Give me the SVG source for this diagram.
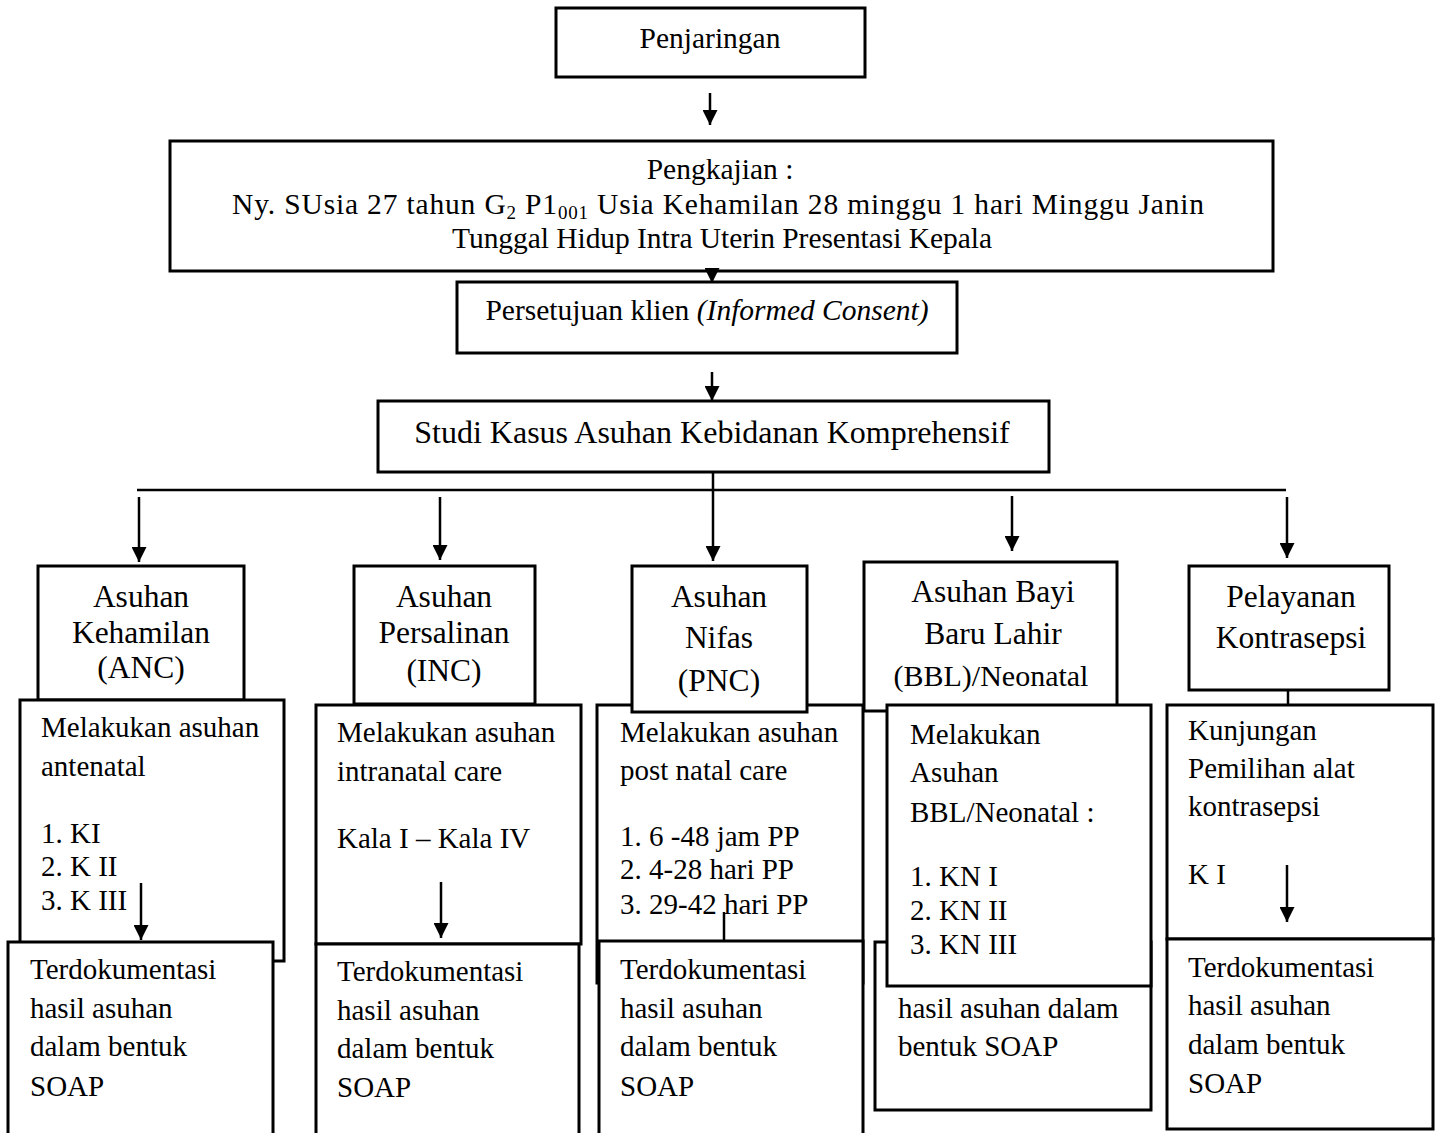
<svg xmlns="http://www.w3.org/2000/svg" width="1439" height="1133" viewBox="0 0 1439 1133">
<defs>
<style>
.box{fill:#fff;stroke:#000;stroke-width:3}
.t{font-family:"Liberation Serif","Times New Roman",serif;font-size:29px;fill:#000}
.top{font-family:"Liberation Serif","Times New Roman",serif;font-size:29.5px;fill:#000;text-anchor:middle}
.ttl{font-family:"Liberation Serif","Times New Roman",serif;font-size:31.5px;fill:#000;text-anchor:middle}
.ln{stroke:#000;stroke-width:2.5;fill:none}
.ar{stroke:#000;stroke-width:2.5;fill:none;marker-end:url(#ah)}
</style>
<marker id="ah" markerUnits="userSpaceOnUse" markerWidth="15" markerHeight="15" refX="15" refY="7.5" orient="auto">
<path d="M0,0 L15,7.5 L0,15 z" fill="#000"/>
</marker>
</defs>
<rect width="1439" height="1133" fill="#fff"/>

<g id="penjaringan">
<rect class="box" x="556" y="8" width="309" height="69"/>
<text class="top" x="710" y="48">Penjaringan</text>
</g>

<g id="pengkajian">
<rect class="box" x="170" y="141" width="1103" height="130"/>
<text class="top" x="720" y="179">Pengkajian :</text>
<text class="top" x="718" y="214" textLength="972" lengthAdjust="spacing">Ny. SUsia 27 tahun G<tspan font-size="19" dy="5">2</tspan><tspan dy="-5"> P1</tspan><tspan font-size="19" dy="5">001</tspan><tspan dy="-5"> Usia Kehamilan 28 minggu 1 hari Minggu Janin</tspan></text>
<text class="top" x="722" y="248" textLength="540" lengthAdjust="spacing">Tunggal Hidup Intra Uterin Presentasi Kepala</text>
</g>

<g id="persetujuan">
<rect class="box" x="457" y="282" width="500" height="71"/>
<text class="top" x="707" y="320">Persetujuan klien <tspan font-style="italic">(Informed Consent)</tspan></text>
</g>

<g id="studi">
<rect class="box" x="378" y="401" width="671" height="71"/>
<text class="top" x="712" y="443" style="font-size:32px">Studi Kasus Asuhan Kebidanan Komprehensif</text>
</g>

<!-- Column 1 -->
<g id="anc-title">
<rect class="box" x="38" y="566" width="206" height="134"/>
<text class="ttl" x="141" y="607">Asuhan</text>
<text class="ttl" x="141" y="643">Kehamilan</text>
<text class="ttl" x="141" y="678">(ANC)</text>
</g>
<g id="anc-asuhan">
<rect class="box" x="20" y="700" width="264" height="261"/>
<text class="t" x="41" y="737">Melakukan asuhan</text>
<text class="t" x="41" y="776">antenatal</text>
<text class="t" x="41" y="843">1. KI</text>
<text class="t" x="41" y="876">2. K II</text>
<text class="t" x="41" y="910">3. K III</text>
</g>
<g id="anc-soap">
<rect class="box" x="8" y="942" width="265" height="200"/>
<text class="t" x="30" y="979">Terdokumentasi</text>
<text class="t" x="30" y="1018">hasil asuhan</text>
<text class="t" x="30" y="1056">dalam bentuk</text>
<text class="t" x="30" y="1096">SOAP</text>
</g>

<!-- Column 2 -->
<g id="inc-title">
<rect class="box" x="354" y="566" width="181" height="138"/>
<text class="ttl" x="444" y="607">Asuhan</text>
<text class="ttl" x="444" y="643">Persalinan</text>
<text class="ttl" x="444" y="681">(INC)</text>
</g>
<g id="inc-asuhan">
<rect class="box" x="316" y="705" width="265" height="239"/>
<text class="t" x="337" y="742">Melakukan asuhan</text>
<text class="t" x="337" y="781">intranatal care</text>
<text class="t" x="337" y="848">Kala I – Kala IV</text>
</g>
<g id="inc-soap">
<rect class="box" x="316" y="944" width="263" height="200"/>
<text class="t" x="337" y="981">Terdokumentasi</text>
<text class="t" x="337" y="1020">hasil asuhan</text>
<text class="t" x="337" y="1058">dalam bentuk</text>
<text class="t" x="337" y="1097">SOAP</text>
</g>

<!-- Column 3 -->
<g id="pnc-asuhan">
<rect class="box" x="597" y="705" width="266" height="278"/>
<text class="t" x="620" y="742">Melakukan asuhan</text>
<text class="t" x="620" y="780">post natal care</text>
<text class="t" x="620" y="846">1. 6 -48 jam PP</text>
<text class="t" x="620" y="879">2. 4-28 hari PP</text>
<text class="t" x="620" y="914">3. 29-42 hari PP</text>
</g>
<g id="pnc-title">
<rect class="box" x="632" y="566" width="175" height="146"/>
<text class="ttl" x="719" y="607">Asuhan</text>
<text class="ttl" x="719" y="648">Nifas</text>
<text class="ttl" x="719" y="691">(PNC)</text>
</g>
<g id="pnc-soap">
<rect class="box" x="599" y="941" width="264" height="200"/>
<text class="t" x="620" y="979">Terdokumentasi</text>
<text class="t" x="620" y="1018">hasil asuhan</text>
<text class="t" x="620" y="1056">dalam bentuk</text>
<text class="t" x="620" y="1096">SOAP</text>
</g>

<!-- Column 4 -->
<g id="bbl-title">
<rect class="box" x="864" y="562" width="253" height="149"/>
<text class="ttl" x="993" y="602">Asuhan Bayi</text>
<text class="ttl" x="993" y="644">Baru Lahir</text>
<text class="ttl" x="991" y="686" style="font-size:30px">(BBL)/Neonatal</text>
</g>
<g id="bbl-soap">
<rect class="box" x="875" y="942" width="276" height="168"/>
<text class="t" x="898" y="1018">hasil asuhan dalam</text>
<text class="t" x="898" y="1056">bentuk SOAP</text>
</g>
<g id="bbl-asuhan">
<rect class="box" x="887" y="705" width="264" height="281"/>
<text class="t" x="910" y="744">Melakukan</text>
<text class="t" x="910" y="782">Asuhan</text>
<text class="t" x="910" y="822">BBL/Neonatal :</text>
<text class="t" x="910" y="886">1. KN I</text>
<text class="t" x="910" y="920">2. KN II</text>
<text class="t" x="910" y="954">3. KN III</text>
</g>

<!-- Column 5 -->
<g id="kb-title">
<rect class="box" x="1189" y="566" width="200" height="124"/>
<text class="ttl" x="1291" y="607">Pelayanan</text>
<text class="ttl" x="1291" y="648">Kontrasepsi</text>
</g>
<g id="kb-asuhan">
<rect class="box" x="1167" y="705" width="266" height="234"/>
<text class="t" x="1188" y="740">Kunjungan</text>
<text class="t" x="1188" y="778">Pemilihan alat</text>
<text class="t" x="1188" y="816">kontrasepsi</text>
<text class="t" x="1188" y="884">K I</text>
</g>
<g id="kb-soap">
<rect class="box" x="1167" y="939" width="266" height="190"/>
<text class="t" x="1188" y="977">Terdokumentasi</text>
<text class="t" x="1188" y="1015">hasil asuhan</text>
<text class="t" x="1188" y="1054">dalam bentuk</text>
<text class="t" x="1188" y="1093">SOAP</text>
</g>

<g id="connectors">
<line class="ar" x1="710" y1="93" x2="710" y2="125"/>
<line class="ar" x1="712" y1="272" x2="712" y2="283"/>
<line class="ar" x1="712" y1="372" x2="712" y2="401"/>
<line class="ln" x1="137" y1="490" x2="1286" y2="490"/>
<line class="ar" x1="713" y1="472" x2="713" y2="561"/>
<line class="ar" x1="139" y1="497" x2="139" y2="562"/>
<line class="ar" x1="440" y1="497" x2="440" y2="560"/>
<line class="ar" x1="1012" y1="496" x2="1012" y2="551"/>
<line class="ar" x1="1287" y1="497" x2="1287" y2="558"/>
<line class="ar" x1="141" y1="883" x2="141" y2="940"/>
<line class="ar" x1="441" y1="882" x2="441" y2="938"/>
<line class="ln" x1="724" y1="912" x2="724" y2="941"/>
<line class="ln" x1="1288" y1="690" x2="1288" y2="705"/>
<line class="ar" x1="1287" y1="865" x2="1287" y2="922"/>
</g>
</svg>
